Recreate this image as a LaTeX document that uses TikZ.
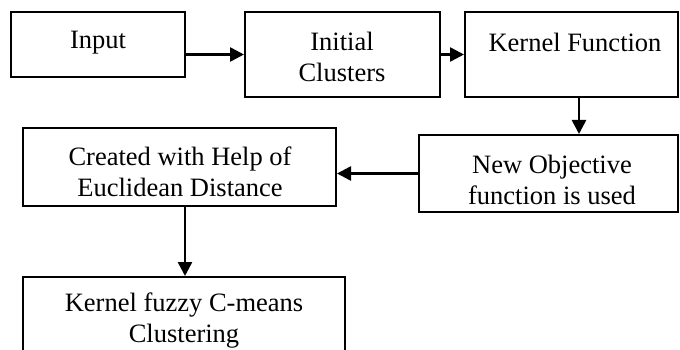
\documentclass[tikz,border=0pt]{standalone}
\usepackage{fontspec}
\setmainfont{Liberation Serif}
\usetikzlibrary{arrows.meta,calc}
\begin{document}
\begin{tikzpicture}[x=1pt,y=-1pt,
  box/.style={draw,line width=2pt,rectangle,inner sep=0pt},
  txt/.style={align=center,inner sep=0pt,font=\fontsize{26.5}{31}\selectfont},
  conn/.style={line width=2.6pt,-{Triangle[length=14pt,width=14pt]}}]
\useasboundingbox (0,0) rectangle (680,350);
\clip (0,0) rectangle (680,350);
% boxes
\node[box,minimum width=174pt,minimum height=65pt] (in) at (98,44.5) {};
\node[box,minimum width=195pt,minimum height=85pt] (ini) at (342.5,54.5) {};
\node[box,minimum width=213pt,minimum height=85pt] (ker) at (571.5,54.5) {};
\node[box,minimum width=259pt,minimum height=77pt] (new) at (548.5,173.5) {};
\node[box,minimum width=313pt,minimum height=78pt] (cr) at (179.5,167) {};
\node[box,minimum width=322pt,minimum height=90pt] (fz) at (184,322) {};
% texts
\node[txt] (tin) at (98,43) {Input};
\node[txt] (tini) at (342,57) {Initial\\Clusters};
\node[txt] (tker) at (575,42) {Kernel Function};
\node[txt] (tnew) at (552,180) {New Objective\\function is used};
\node[txt] (tcr) at (180,172) {Created with Help of\\Euclidean Distance};
\node[txt] (tfz) at (184,321) {Kernel fuzzy C-means\\Clustering};
% connectors
\draw[conn] (in.east |- ini.west) -- (ini.west);
\draw[conn] (ini.east) -- (ker.west);
\draw[conn] ([xshift=7.5pt]ker.south) -- ([xshift=7.5pt]ker.south |- new.north);
\draw[conn] (new.west) -- (new.west -| cr.east);
\draw[conn] ([xshift=5.5pt]cr.south) -- ([xshift=5.5pt]cr.south |- fz.north);
\end{tikzpicture}
\end{document}
